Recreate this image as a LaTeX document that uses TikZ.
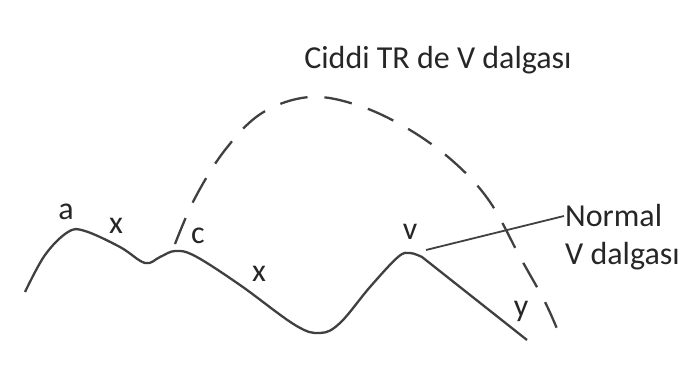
\documentclass[tikz,border=0pt]{standalone}
\usepackage{fontspec}
\setmainfont{Carlito}
\usetikzlibrary{positioning}

\tikzset{
  lbl/.style={font=\fontsize{32}{34}\selectfont, text=black!85, inner sep=1pt},
  wave/.style={line width=2.3pt, draw=black!75, line join=round},
  severe/.style={wave, dash pattern=on 28pt off 17pt}
}

\begin{document}
\begin{tikzpicture}[x=1pt,y=-1pt]
	\useasboundingbox (0,0) rectangle (687,390);
	% normal curve
	\draw[wave] plot[smooth, tension=0.6] coordinates {(25,292) (45,255) (68,232) (85,231) (120,247) (145,263) (160,257) (175,251) (195,256) (240,285) (295,325) (320,333) (340,323) (370,287) (398,257) (410,253) (422,257)} -- (527,340);
	% severe case
	\draw[severe] plot[smooth, tension=0.6] coordinates {(175,244) (195,198) (225,150) (262,113) (310,97) (360,106) (410,130) (455,163) (490,202) (520,257) (545,302) (560,336)};
	\node[lbl] (a) at (66,212) {a};
	\node[lbl] (x1) at (116,226) {x};
	\node[lbl] (c) at (198,236) {c};
	\node[lbl] (x2) at (259,274) {x};
	\node[lbl] (v) at (410,232) {v};
	\node[lbl] (y) at (521,311) {y};
	\node[lbl] (title) at (438,60) {Ciddi TR de V dalgası};
	\node[lbl, anchor=west] (normal) at (564,216) {Normal};
	\node[lbl, anchor=west] (vd) at (564,256) {V dalgası};
	\coordinate (vtip) at (426,250);
	\draw[line width=1.8pt, draw=black!75] (vtip) -- (normal.west);
\end{tikzpicture}
\end{document}
